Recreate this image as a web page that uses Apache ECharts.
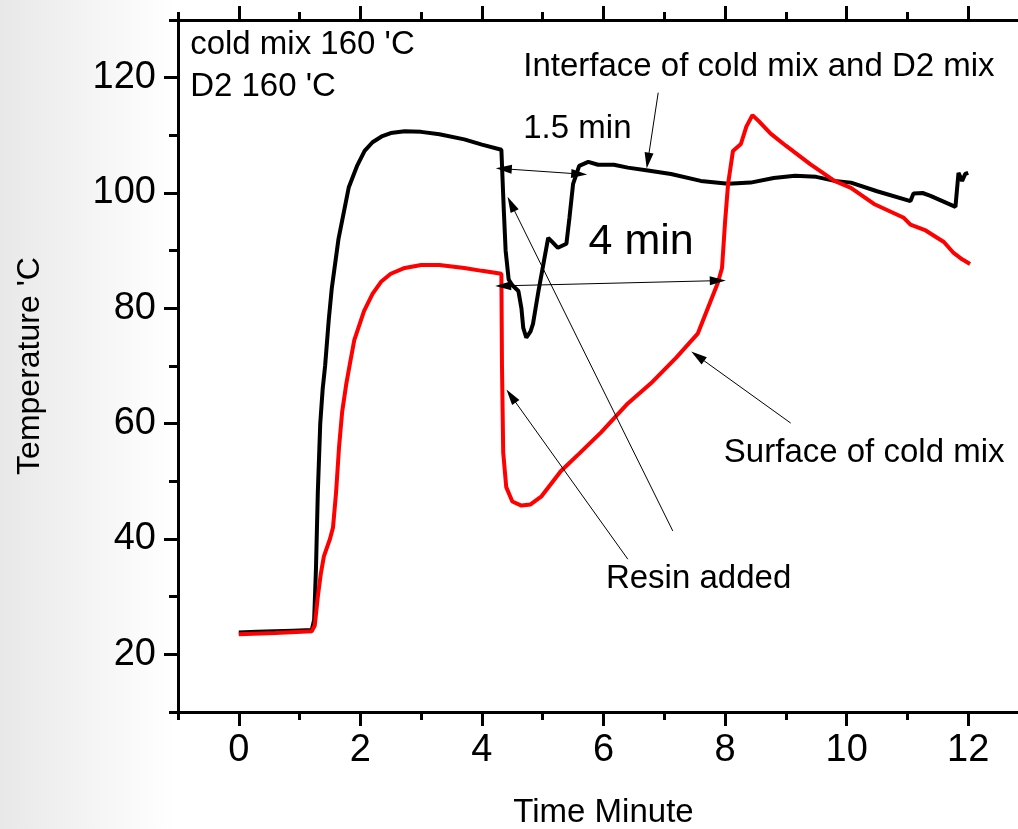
<!DOCTYPE html>
<html>
<head>
<meta charset="utf-8">
<script src="https://cdn.jsdelivr.net/npm/echarts@6/dist/echarts.min.js"></script>
<style>html,body{margin:0;padding:0;background:#fff;overflow:hidden;}#c{width:1018px;height:829px;}</style>
</head>
<body>
<div id="c"></div>
<script>
// ---- data (time in minutes, temperature in 'C) ----
const interfaceSeries = [
  [0,23.8],[0.3,23.9],[0.6,24.0],[0.9,24.1],[1.2,24.2],[1.24,26],[1.27,35],[1.3,48],[1.34,60],[1.38,66],
  [1.42,70],[1.48,78],[1.53,83.5],[1.64,92],[1.81,101],[1.95,104.8],[2.07,107.3],[2.2,108.8],[2.35,109.8],
  [2.5,110.4],[2.73,110.7],[3.0,110.6],[3.3,110.2],[3.71,109.3],[4.0,108.4],[4.32,107.5],[4.36,97],[4.39,90],
  [4.44,85],[4.5,84],[4.6,83],[4.65,80],[4.68,76.6],[4.73,74.9],[4.8,76],[4.84,77.3],[4.93,83],[5.02,88.2],
  [5.09,92.2],[5.14,91.7],[5.25,90.5],[5.39,91.2],[5.44,95.7],[5.5,101.6],[5.6,104.7],[5.75,105.4],[5.91,104.9],
  [6.17,104.9],[6.4,104.4],[6.73,103.9],[7.11,103.3],[7.6,102.1],[8.05,101.6],[8.42,101.8],[8.8,102.6],[9.15,103],
  [9.5,102.8],[9.8,102.1],[10.07,101.8],[10.5,100.3],[11.05,98.6],[11.1,99.9],[11.25,100],[11.38,99.5],[11.79,97.6],
  [11.84,103.5],[11.9,102.1],[11.95,103.3],[12.0,103.5]
];
const surfaceSeries = [
  [0,23.5],[0.6,23.7],[1.2,24.0],[1.25,25],[1.3,30],[1.35,34],[1.4,37],[1.45,38.5],[1.5,40],[1.55,42],[1.6,48],
  [1.65,56],[1.7,62],[1.77,67],[1.83,70.5],[1.9,74.5],[2.06,79.5],[2.2,82.5],[2.34,84.6],[2.5,86],[2.73,87],[3.0,87.5],
  [3.3,87.5],[3.71,87],[4.0,86.5],[4.32,86],[4.33,70],[4.35,55],[4.4,49],[4.5,46.5],[4.65,45.8],[4.8,46],[4.98,47.4],
  [5.3,51.8],[5.6,54.8],[5.96,58.5],[6.4,63.5],[6.78,67],[7.2,71.5],[7.55,75.6],[7.88,84.4],[7.95,87],[8.0,95],
  [8.05,101.6],[8.13,107.3],[8.26,108.5],[8.35,111.5],[8.45,113.5],[8.55,112.5],[8.75,110.3],[9.0,108.2],[9.4,105],
  [9.8,102.1],[10.07,100.9],[10.45,98.1],[10.94,95.7],[11.05,94.5],[11.3,93.5],[11.6,91.5],[11.76,89.6],[11.9,88.5],[12.03,87.7]
];
const xMajorTicks = [0,2,4,6,8,10,12];
const yMajorTicks = [20,40,60,80,100,120];
// annotation texts with anchor in data coordinates [x, y]
const noteTexts = ["cold mix 160 'C", "D2 160 'C", "Interface of cold mix and D2 mix", "1.5 min", "Surface of cold mix", "Resin added", "4 min"];
const noteAnchors = [[-0.80,125.7],[-0.80,118.4],[4.68,121.9],[4.68,111.1],[7.98,54.9],[6.04,33.0],[6.62,91.5]];
// arrows: [x1,y1,x2,y2, doubleHeaded]
const arrowLines = [
  [6.90,117.4,6.73,105.6,0],
  [4.36,104.2,5.60,103.3,1],
  [4.35,83.9,7.88,84.8,1],
  [7.14,41.4,4.48,98.1,0],
  [6.40,36.5,4.48,64.8,0],
  [9.08,60.1,7.55,71.7,0]
];

const FONT = "'Liberation Sans', Arial, sans-serif";
const chart = echarts.init(document.getElementById('c'), null, {renderer:'canvas'});

function xAx(pos, major, labels) {
  return {
    type:'value', position:pos, min:-1, max:13, interval:1,
    axisLine:{show:!major, onZero:false, lineStyle:{color:'#000', width:3}},
    axisTick:{show:true, inside:false, length: major?14:8, lineStyle:{color:'#000', width:3},
      customValues: major ? xMajorTicks : undefined},
    axisLabel:{show:!!labels, customValues:xMajorTicks, fontSize:38, color:'#000', fontFamily:FONT, margin:20},
    splitLine:{show:false},
    name: labels ? 'Time Minute' : '', nameLocation:'middle', nameGap:84,
    nameTextStyle:{fontSize:33, color:'#000', fontFamily:FONT}
  };
}
function yAx(major, labels) {
  return {
    type:'value', position:'left', min:10, max:130, interval:10,
    axisLine:{show:!major, onZero:false, lineStyle:{color:'#000', width:3}},
    axisTick:{show:true, inside:false, length: major?14:9, lineStyle:{color:'#000', width:3},
      customValues: major ? yMajorTicks : undefined},
    axisLabel:{show:!!labels, customValues:yMajorTicks, fontSize:38, color:'#000', fontFamily:FONT, margin:22},
    splitLine:{show:false},
    name: labels ? "Temperature 'C" : '', nameLocation:'middle', nameGap:132, nameRotate:90,
    nameTextStyle:{fontSize:32, color:'#000', fontFamily:FONT}
  };
}

const noteData = noteTexts.map((t,i) => ({
  value: noteAnchors[i], name: t,
  label: i === 6
    ? {position:'inside', fontSize:43, color:'#000'}
    : {position:'right', distance:0, align:'left', verticalAlign:'middle', fontSize:33, color:'#000'}
}));

chart.setOption({
  animation:false,
  backgroundColor:{type:'linear', x:0, y:0, x2:1, y2:0,
    colorStops:[{offset:0,color:'#e8e8e8'},{offset:0.17,color:'#ffffff'},{offset:1,color:'#ffffff'}]},
  grid:{left:178, top:20, bottom:117, right:-11, show:true, backgroundColor:'#fff', borderWidth:0,
    containLabel:false, outerBoundsMode:'none'},
  xAxis:[xAx('bottom', false, true), xAx('bottom', true, false), xAx('top', false, false), xAx('top', true, false)],
  yAxis:[yAx(false, true), yAx(true, false)],
  series:[
    {type:'line', name:'Interface', data:interfaceSeries, showSymbol:false, symbol:'none',
      lineStyle:{color:'#000', width:4}, z:3},
    {type:'line', name:'Surface', data:surfaceSeries, showSymbol:false, symbol:'none',
      lineStyle:{color:'#ff0000', width:4}, z:4},
    {type:'scatter', name:'notes', data:noteData, symbolSize:0, silent:true, z:5,
      itemStyle:{opacity:1, color:'#000'},
      label:{show:true, formatter:p => p.name, color:'#000', opacity:1, fontFamily:FONT, textBorderWidth:0},
      markLine:{silent:true, animation:false, symbolSize:[9,16],
        lineStyle:{color:'#000', width:1, type:'solid', opacity:1}, label:{show:false},
        emphasis:{disabled:true},
        data: arrowLines.map(a => [
          {coord:[a[0],a[1]], symbol: a[4] ? 'triangle' : 'none'},
          {coord:[a[2],a[3]], symbol:'triangle'}
        ])}
    }
  ]
});
</script>
</body>
</html>
